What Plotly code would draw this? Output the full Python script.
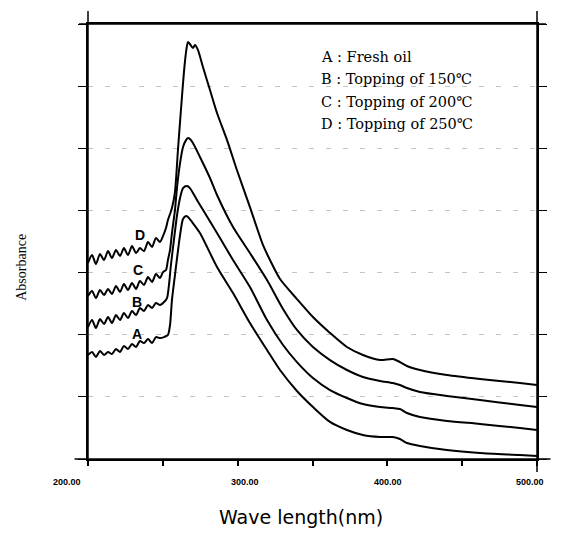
import plotly.graph_objects as go

# wavelength (nm) of the shared noisy baseline part
wl_base = [200.0, 202.7, 205.3, 208.0, 210.7, 213.4, 216.0, 218.7, 221.4, 224.0,
           226.7, 229.4, 232.1, 234.7, 237.4, 240.1, 242.8, 245.4, 248.1]

# D : topping of 250C
wl_d = wl_base + [250.1, 252.1, 253.4, 254.8, 256.1, 258.1, 260.1, 262.1, 264.1, 265.5,
                  266.8, 268.1, 270.1, 271.5, 273.5, 276.8, 281.5, 286.2, 292.9, 299.5,
                  308.2, 316.9, 321.6, 328.3, 339.6, 350.3, 361.7, 373.0, 383.7, 395.1,
                  403.7, 408.4, 413.1, 421.8, 439.8, 461.9, 488.6, 500.0]
abs_d = [1.577, 1.641, 1.569, 1.649, 1.601, 1.673, 1.617, 1.681, 1.633, 1.697,
         1.641, 1.714, 1.657, 1.697, 1.673, 1.746, 1.706, 1.778, 1.746,
         1.794, 1.858, 1.923, 1.971, 2.019, 2.148, 2.486, 2.808, 3.113, 3.274,
         3.355, 3.339, 3.306, 3.331, 3.290, 3.154, 2.969, 2.784, 2.566, 2.325,
         2.027, 1.722, 1.601, 1.448, 1.287, 1.142, 1.014, 0.901, 0.837, 0.796,
         0.805, 0.780, 0.748, 0.716, 0.676, 0.644, 0.611, 0.595]

# C : topping of 200C
wl_c = wl_base + [250.1, 252.1, 253.4, 254.8, 256.1, 258.1, 259.5, 261.5, 263.5, 265.5,
                  266.8, 268.1, 270.1, 274.8, 281.5, 286.2, 296.9, 308.2, 319.6, 330.3,
                  339.6, 350.3, 361.7, 373.0, 383.7, 395.1, 403.7, 408.4, 413.1, 421.8,
                  439.8, 461.9, 488.6, 500.0]
abs_c = [1.311, 1.352, 1.295, 1.360, 1.319, 1.368, 1.327, 1.392, 1.344, 1.408,
         1.360, 1.416, 1.368, 1.432, 1.400, 1.464, 1.424, 1.488, 1.456,
         1.504, 1.521, 1.601, 1.681, 1.818, 2.003, 2.188, 2.381, 2.510, 2.566,
         2.582, 2.574, 2.542, 2.430, 2.261, 2.124, 1.866, 1.657, 1.440, 1.207,
         1.038, 0.901, 0.796, 0.716, 0.660, 0.628, 0.611, 0.595, 0.571, 0.539,
         0.507, 0.475, 0.434, 0.418]

# B : topping of 150C
wl_b = wl_base + [250.8, 252.8, 254.1, 255.4, 257.4, 259.5, 261.5, 263.5, 266.1, 268.1,
                  272.8, 286.2, 296.9, 308.2, 319.6, 330.3, 339.6, 350.3, 361.7, 373.0,
                  383.7, 395.1, 403.7, 408.4, 413.1, 421.8, 439.8, 461.9, 488.6, 500.0]
abs_b = [1.062, 1.118, 1.054, 1.126, 1.086, 1.142, 1.094, 1.158, 1.118, 1.175,
         1.134, 1.191, 1.158, 1.215, 1.191, 1.239, 1.215, 1.255, 1.239,
         1.263, 1.295, 1.400, 1.561, 1.762, 1.963, 2.100, 2.180, 2.196, 2.180,
         2.084, 1.818, 1.601, 1.384, 1.118, 0.917, 0.780, 0.652, 0.555, 0.491,
         0.442, 0.418, 0.410, 0.402, 0.370, 0.338, 0.306, 0.282, 0.249, 0.233]

# A : fresh oil
wl_a = wl_base + [250.8, 253.4, 254.8, 256.1, 258.1, 259.5, 261.5, 263.5, 265.5, 266.8,
                  269.5, 274.8, 286.2, 296.9, 308.2, 319.6, 328.3, 339.6, 350.3, 361.7,
                  373.0, 383.7, 395.1, 403.7, 408.4, 413.1, 421.8, 439.8, 461.9, 488.6,
                  500.0]
abs_a = [0.837, 0.861, 0.821, 0.869, 0.837, 0.861, 0.845, 0.885, 0.861, 0.909,
         0.885, 0.925, 0.901, 0.949, 0.933, 0.965, 0.933, 0.981, 0.973,
         0.981, 0.998, 1.078, 1.279, 1.480, 1.617, 1.802, 1.931, 1.955, 1.947,
         1.907, 1.818, 1.545, 1.335, 1.094, 0.877, 0.716, 0.547, 0.418, 0.298,
         0.233, 0.193, 0.177, 0.177, 0.161, 0.129, 0.105, 0.072, 0.048, 0.032,
         0.024]

curve_names = ["A", "B", "C", "D"]
label_wl = [232.7, 232.7, 233.4, 234.7]
label_abs = [1.006, 1.263, 1.521, 1.802]

legend_lines = ["A : Fresh oil", "B : Topping of 150\u2103",
                "C : Topping of 200\u2103", "D : Topping of 250\u2103"]

x_ticks = [200, 250, 300, 350, 400, 450, 500]
x_label_vals = [200, 300, 400, 500]
y_ticks = [0, 0.5, 1.0, 1.5, 2.0, 2.5, 3.0, 3.5]

fig = go.Figure()
for wl, ab, name in [(wl_a, abs_a, "A"), (wl_b, abs_b, "B"), (wl_c, abs_c, "C"), (wl_d, abs_d, "D")]:
    fig.add_trace(go.Scatter(x=wl, y=ab, mode="lines", name=name,
                             line=dict(color="black", width=2, shape="spline", smoothing=0.7),
                             showlegend=False))

# curve letters
for name, lx, ly in zip(curve_names, label_wl, label_abs):
    fig.add_annotation(x=lx, y=ly, text="<b>" + name + "</b>", showarrow=False,
                       font=dict(family="Liberation Sans", size=14, color="black"))

# legend text block
for i, line in enumerate(legend_lines):
    fig.add_annotation(xref="paper", yref="paper", x=0.515, y=0.924 - i * 0.0515,
                       xanchor="left", yanchor="middle", text=line, showarrow=False,
                       font=dict(family="DejaVu Serif", size=14.5, color="black"))

# x tick labels, shifted like in the scan
for v, shift in zip(x_label_vals, [-21, 7, 1, -7]):
    fig.add_annotation(x=v, y=0, yref="y", text="<b>" + f"{v:.2f}" + "</b>",
                       showarrow=False, xshift=shift, yshift=-23,
                       font=dict(family="Liberation Sans", size=9, color="black"))

fig.add_annotation(xref="paper", yref="paper", x=0.475, y=-0.164, text="Wave length(nm)",
                   showarrow=False, font=dict(family="DejaVu Sans", size=19, color="black"))
fig.add_annotation(xref="paper", yref="paper", x=-0.17, y=0.44, text="Absorbance",
                   textangle=-90, showarrow=False,
                   font=dict(family="Liberation Serif", size=14, color="black"))

# frame lines overshooting the corners
frame = dict(color="black", width=1.5)
fig.add_shape(type="line", xref="paper", yref="paper", x0=0, x1=0, y0=-0.015, y1=1.03, line=frame)
fig.add_shape(type="line", xref="paper", yref="paper", x0=1, x1=1, y0=-0.03, y1=1.03, line=frame)
fig.add_shape(type="line", xref="paper", yref="paper", x0=-0.02, x1=1.02, y0=1, y1=1, line=frame)
fig.add_shape(type="line", xref="paper", yref="paper", x0=-0.03, x1=1.03, y0=0, y1=0, line=frame)

fig.update_xaxes(range=[200, 500], tickvals=x_ticks, ticktext=["" for _ in x_ticks],
                 ticks="outside", ticklen=5, tickwidth=1.5, tickcolor="black",
                 showline=True, linecolor="black", linewidth=1.5, mirror=True,
                 showgrid=False, zeroline=False)
fig.update_yaxes(range=[0, 3.5], tickvals=y_ticks, showticklabels=False,
                 ticks="outside", ticklen=8, tickwidth=1.2, tickcolor="black",
                 showline=True, linecolor="black", linewidth=1.5, mirror="allticks",
                 showgrid=True, gridcolor="#c4c4c4", gridwidth=1, griddash="5px,12px",
                 zeroline=False)

# the page body adds an 8px margin, so the figure is a bit smaller than the window
fig.update_layout(width=559, height=528, margin=dict(l=80, r=30, t=16, b=77),
                  plot_bgcolor="white", paper_bgcolor="white")

fig.write_html("out.html")
